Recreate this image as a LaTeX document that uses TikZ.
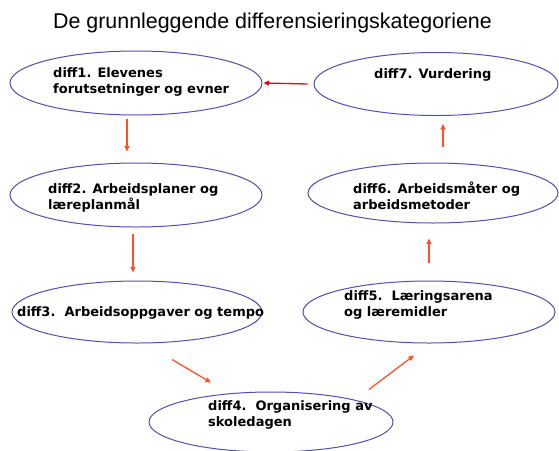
\documentclass[tikz,border=0pt]{standalone}
\usepackage{fontspec}
\setmainfont{Liberation Sans}
\newfontfamily\boxfont{DejaVu Sans}
\usetikzlibrary{arrows.meta,shapes.geometric}
\definecolor{ellline}{RGB}{80,80,175}
\definecolor{arrorange}{RGB}{255,80,40}
\definecolor{arrred}{RGB}{225,10,20}
\tikzset{
  ell/.style={draw=ellline,line width=1pt,ellipse,inner sep=0pt,fill=white},
  lbl/.style={anchor=west,align=left,inner sep=0pt,font=\boxfont\bfseries\fontsize{13}{16}\selectfont},
  arr/.style={draw=arrorange,line width=1.3pt,-{Triangle[length=5.5pt,width=5pt]}},
}
\begin{document}
\begin{tikzpicture}[x=1pt,y=-1pt]
\useasboundingbox (0,0) rectangle (559,450);
\node[font=\fontsize{21.4}{24}\selectfont,inner sep=0pt] (title) at (272.5,23) {De grunnleggende differensieringskategoriene};
\node[ell,minimum width=252pt,minimum height=64pt] (e1) at (136,83) {};
\node[ell,minimum width=252pt,minimum height=64pt] (e2) at (136,195) {};
\node[ell,minimum width=250pt,minimum height=62pt] (e3) at (137,312) {};
\node[ell,minimum width=244pt,minimum height=60pt] (e4) at (271,422) {};
\node[ell,minimum width=252pt,minimum height=62pt] (e5) at (429,312) {};
\node[ell,minimum width=250pt,minimum height=60pt] (e6) at (433,193) {};
\node[ell,minimum width=244pt,minimum height=63pt] (e7) at (436,84) {};
\node[lbl] (t1) at (53,81.5) {diff1. Elevenes\\forutsetninger og evner};
\node[lbl] (t2) at (48,198) {diff2. Arbeidsplaner og\\læreplanmål};
\node[lbl] (t3) at (17,313) {diff3.\ \ Arbeidsoppgaver og tempo};
\node[lbl] (t4) at (208,414.5) {diff4.\ \ Organisering av\\skoledagen};
\node[lbl] (t5) at (344,305) {diff5.\ \ Læringsarena\\og læremidler};
\node[lbl] (t6) at (353,196) {diff6. Arbeidsmåter og\\arbeidsmetoder};
\node[lbl] (t7) at (374,75) {diff7. Vurdering};
\draw[arr] ([xshift=-9pt,yshift=-3pt]e1.south) -- ([xshift=-9pt,yshift=11pt]e2.north);
\draw[arr] ([xshift=-3pt,yshift=-6pt]e2.south) -- ([xshift=-4pt,yshift=8pt]e3.north);
\draw[arr] ([xshift=35pt,yshift=-16pt]e3.south) -- ([xshift=-60pt,yshift=9pt]e4.north);
\draw[arr] ([xshift=98pt,yshift=2pt]e4.north) -- ([xshift=-15pt,yshift=-12pt]e5.south);
\draw[arr] ([yshift=18pt]e5.north) -- ([xshift=-4pt,yshift=-15pt]e6.south);
\draw[arr] ([xshift=10pt,yshift=16pt]e6.north) -- ([xshift=7pt,yshift=-8pt]e7.south);
\draw[arr,draw=arrred] ([xshift=-6pt]e7.west) -- ([xshift=1pt]e1.east);
\end{tikzpicture}
\end{document}
